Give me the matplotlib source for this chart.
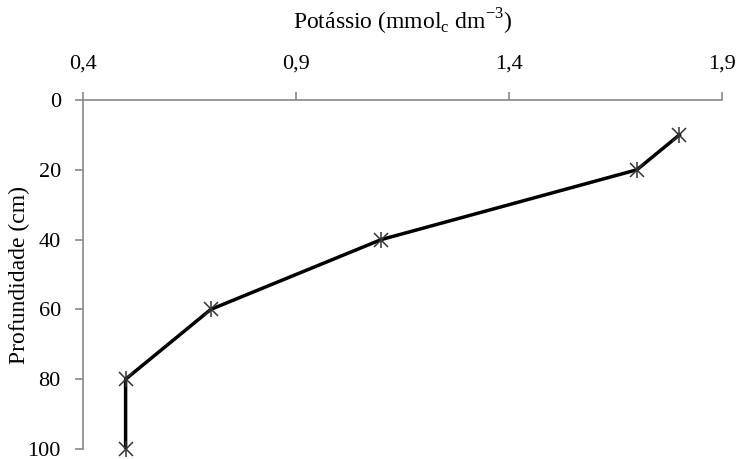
import matplotlib.pyplot as plt

# Teor de potássio ao longo do perfil
profundidade = [10, 20, 40, 60, 80, 100]
potassio = [1.80, 1.70, 1.10, 0.70, 0.50, 0.50]
xticks = [0.4, 0.9, 1.4, 1.9]
yticks = [0, 20, 40, 60, 80, 100]

plt.rcParams['font.family'] = ['Liberation Serif', 'DejaVu Serif']
plt.rcParams['mathtext.fontset'] = 'custom'
plt.rcParams['mathtext.rm'] = 'Liberation Serif'

fig = plt.figure(figsize=(7.4, 4.59), dpi=100)
ax = fig.add_axes([83 / 740, 1 - 449 / 459, (722 - 83) / 740, 349 / 459])

ax.plot(potassio, profundidade, color='black', lw=2.5, zorder=2)
ax.plot(potassio, profundidade, ls='none', marker='x', ms=10, mew=1.1,
        color='#333333', zorder=3, clip_on=False)
ax.plot(potassio, profundidade, ls='none', marker='|', ms=12, mew=1.1,
        color='#333333', zorder=3, clip_on=False)

ax.set_xlim(0.4, 1.9)
ax.set_ylim(100, 0)
ax.set_xticks(xticks)
ax.set_xticklabels([f'{v:.1f}'.replace('.', ',') for v in xticks])
ax.set_yticks(yticks)

ax.xaxis.tick_top()
ax.xaxis.set_label_position('top')
for s in ['right', 'bottom']:
    ax.spines[s].set_visible(False)
for s in ['left', 'top']:
    ax.spines[s].set_color('#888888')
    ax.spines[s].set_linewidth(1.2)
ax.tick_params(axis='both', colors='#888888', length=6, width=1.2,
               labelsize=16, labelcolor='black', direction='out')
ax.tick_params(axis='x', pad=13)
ax.tick_params(axis='y', pad=10)

ax.set_xlabel(r'Potássio (mmol$_\mathrm{c}$ dm$^\mathrm{-3}$)', fontsize=17,
              va='center')
ax.xaxis.set_label_coords(0.5, (449 - 22) / 349)
ax.set_ylabel('Profundidade (cm)', fontsize=17, va='center')
ax.yaxis.set_label_coords(-0.1, 0.5)

fig.savefig('out.png', dpi=100)
